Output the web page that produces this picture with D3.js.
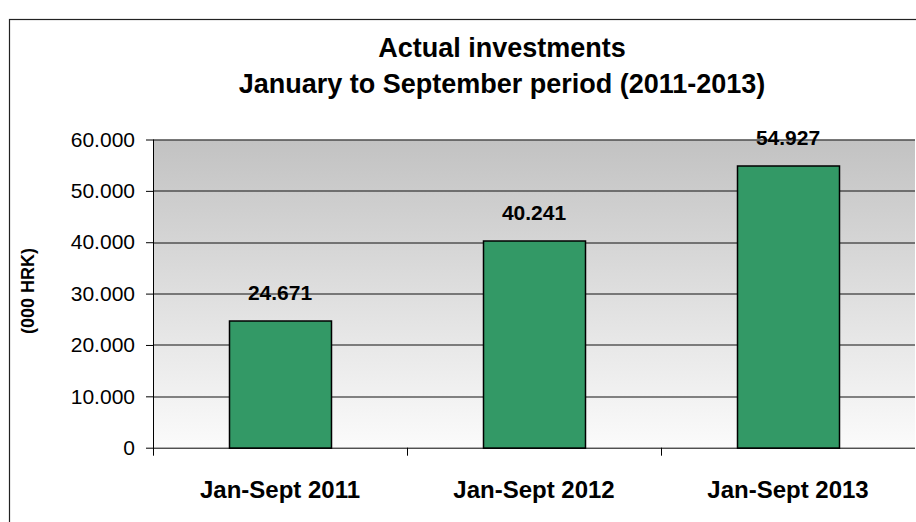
<!DOCTYPE html>
<html>
<head>
<meta charset="utf-8">
<script src="https://cdn.jsdelivr.net/npm/d3@7"></script>
<style>
  body { margin: 0; background: #fff; }
  svg { display: block; font-family: "Liberation Sans", Arial, sans-serif; }
</style>
</head>
<body>
<script>
var categories = ["Jan-Sept 2011", "Jan-Sept 2012", "Jan-Sept 2013"];
var values = [24671, 40241, 54927];
var valueLabels = ["24.671", "40.241", "54.927"];
var yTicks = [0, 10000, 20000, 30000, 40000, 50000, 60000];
var titleLines = ["Actual investments", "January to September period (2011-2013)"];

var W = 916, H = 522;
var margin = {top: 139.5, right: 1, bottom: 74.3, left: 153},
    width = W - margin.left - margin.right,
    height = H - margin.top - margin.bottom;

var svg = d3.select("body").append("svg")
    .attr("width", W)
    .attr("height", H);

// outer chart frame
svg.append("rect")
    .attr("x", 9.5).attr("y", 19.5)
    .attr("width", W).attr("height", H)
    .attr("fill", "#fff")
    .attr("stroke", "#222")
    .attr("stroke-width", 1.2);

var grad = svg.append("defs").append("linearGradient")
    .attr("id", "bg").attr("x1", 0).attr("y1", 0).attr("x2", 0).attr("y2", 1);
grad.append("stop").attr("offset", "0%").attr("stop-color", "#c2c2c2");
grad.append("stop").attr("offset", "100%").attr("stop-color", "#fbfbfb");

var xb = d3.scaleBand().domain(categories).range([0, width]);
var y = d3.scaleLinear().domain([0, 60000]).range([height, 0]);
var barW = xb.bandwidth() * 0.4;

var g = svg.append("g").attr("transform", "translate(" + margin.left + "," + margin.top + ")");

g.append("rect")
    .attr("width", width).attr("height", height)
    .attr("fill", "url(#bg)");

// gridlines
g.selectAll(".grid").data(yTicks.slice(1))
    .enter().append("line")
    .attr("x1", 0).attr("x2", width)
    .attr("y1", function(d){ return Math.round(y(d)) + 0.5; })
    .attr("y2", function(d){ return Math.round(y(d)) + 0.5; })
    .attr("stroke", "#111").attr("stroke-width", 1);

// bars
g.selectAll(".bar").data(values)
    .enter().append("rect")
    .attr("x", function(d, i){ return Math.round(xb(categories[i]) + xb.bandwidth() / 2 - barW / 2) + 0.5; })
    .attr("y", function(d){ return Math.round(y(d)) + 0.5; })
    .attr("width", Math.round(barW))
    .attr("height", function(d){ return height - Math.round(y(d)); })
    .attr("fill", "#339966")
    .attr("stroke", "#000").attr("stroke-width", 1.5);

// value labels
g.selectAll(".val").data(values)
    .enter().append("text")
    .attr("x", function(d, i){ return xb(categories[i]) + xb.bandwidth() / 2; })
    .attr("y", function(d){ return y(d) - 21; })
    .attr("text-anchor", "middle")
    .style("font-size", "21px").style("font-weight", "bold")
    .text(function(d, i){ return valueLabels[i]; });

// y axis
var yAxis = d3.axisLeft(y).tickValues(yTicks).tickSize(7).tickPadding(11)
    .tickFormat(function(d){ return d === 0 ? "0" : d3.format(",")(d).replace(/,/g, "."); });
var ya = g.append("g").call(yAxis);
ya.select(".domain").attr("d", "M0.5," + (height + 8) + "V0").attr("stroke", "#000");
ya.selectAll("text").style("font-size", "21px").attr("fill", "#000");
ya.selectAll(".tick line").attr("stroke", "#000");

// x axis
var xa = g.append("g").attr("transform", "translate(0," + height + ")");
xa.append("line").attr("x1", 0).attr("x2", width).attr("y1", 0.5).attr("y2", 0.5).attr("stroke", "#000");
xa.selectAll(".xt").data(categories.slice(1))
    .enter().append("line")
    .attr("x1", function(d){ return Math.round(xb(d)) + 0.5; })
    .attr("x2", function(d){ return Math.round(xb(d)) + 0.5; })
    .attr("y1", 0).attr("y2", 8)
    .attr("stroke", "#000");
xa.selectAll(".xl").data(categories)
    .enter().append("text")
    .attr("x", function(d){ return xb(d) + xb.bandwidth() / 2; })
    .attr("y", 50)
    .attr("text-anchor", "middle")
    .style("font-size", "24px").style("font-weight", "bold")
    .text(function(d){ return d; });

// y axis title
svg.append("text")
    .attr("transform", "translate(34,291) rotate(-90)")
    .attr("text-anchor", "middle")
    .style("font-size", "18px").style("font-weight", "bold")
    .text("(000 HRK)");

// chart title
svg.selectAll(".title").data(titleLines)
    .enter().append("text")
    .attr("x", 502)
    .attr("y", function(d, i){ return 57 + i * 36; })
    .attr("text-anchor", "middle")
    .style("font-size", "27px").style("font-weight", "bold")
    .text(function(d){ return d; });
</script>
</body>
</html>
